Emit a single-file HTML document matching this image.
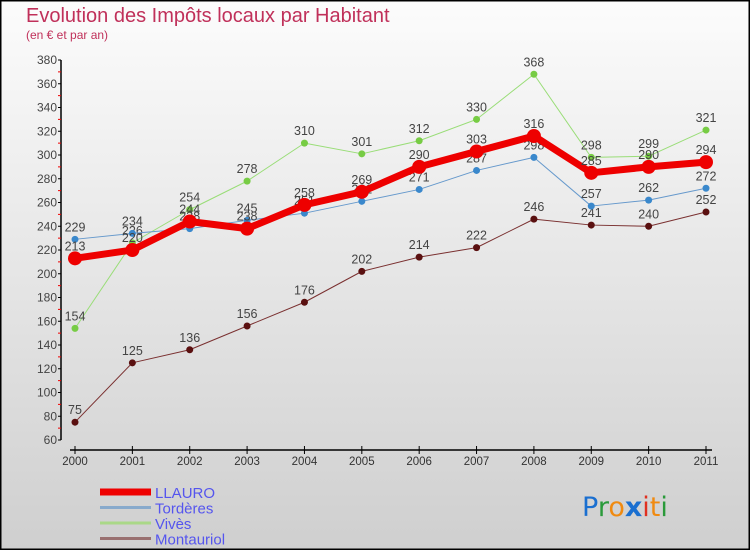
<!DOCTYPE html>
<html><head><meta charset="utf-8"><style>
body{margin:0;}
#wrap{width:750px;height:550px;position:relative;overflow:hidden;}
svg{display:block;font-family:"Liberation Sans",sans-serif;}
</style></head><body>
<div id="wrap">
<svg id="chart" width="750" height="550">
<defs><linearGradient id="bg" x1="0" y1="0" x2="0" y2="1"><stop offset="0" stop-color="#fcfcfc"/><stop offset="1" stop-color="#cfcfcf"/></linearGradient></defs>
<rect x="0.5" y="0.5" width="749" height="549" fill="url(#bg)" stroke="#000" stroke-width="2"/>
<text x="26" y="22" font-size="20" fill="#c0305a">Evolution des Impôts locaux par Habitant</text>
<text x="26" y="39" font-size="12" fill="#c0305a">(en € et par an)</text>
<g id="axes"></g><g id="series"></g><g id="legend"></g>
<text x="582" y="516" font-size="27" font-family="'DejaVu Sans',sans-serif"><tspan fill="#1a6fd0">P</tspan><tspan fill="#2a9a3a">r</tspan><tspan fill="#f08a10">o</tspan><tspan fill="#1a6fd0" font-weight="bold">x</tspan><tspan fill="#e03020">i</tspan><tspan fill="#f08a10">t</tspan><tspan fill="#2a9a3a">i</tspan></text>
</svg></div>
<script>
const years=[2000,2001,2002,2003,2004,2005,2006,2007,2008,2009,2010,2011];
const llauro=[213,220,244,238,258,269,290,303,316,285,290,294];
const torderes=[229,234,238,245,251,261,271,287,298,257,262,272];
const vives=[154,226,254,278,310,301,312,330,368,298,299,321];
const montauriol=[75,125,136,156,176,202,214,222,246,241,240,252];
const yTicks=[60,80,100,120,140,160,180,200,220,240,260,280,300,320,340,360,380];
const NS="http://www.w3.org/2000/svg";
const xS=i=>75+i*(706-75)/11;
const yS=v=>440-(v-60)*(380/320);
function mk(tag,attrs,parent){const e=document.createElementNS(NS,tag);for(const k in attrs)e.setAttribute(k,attrs[k]);parent.appendChild(e);return e;}
const axes=document.getElementById('axes');
const ya=mk('line',{x1:61,x2:61,y1:yS(380),y2:yS(60),stroke:'#000','stroke-width':1.5},axes);


yTicks.forEach((t,i)=>{
 mk('line',{x1:58,x2:61,y1:yS(t),y2:yS(t),stroke:'#000'},axes);
 if(i<yTicks.length-1)mk('line',{x1:58,x2:61,y1:yS(t+10),y2:yS(t+10),stroke:'#e00'},axes);
 const tx=mk('text',{x:57,y:yS(t)+4,'text-anchor':'end','font-size':12,fill:'#444'},axes);tx.textContent=t;
 
 
});
const xa=mk('line',{x1:70,x2:712,y1:450,y2:450,stroke:'#000','stroke-width':1.5},axes);


years.forEach((y,i)=>{
 mk('line',{x1:xS(i),x2:xS(i),y1:446,y2:454,stroke:'#000'},axes);
 const tx=mk('text',{x:xS(i),y:465,'text-anchor':'middle','font-size':11.5,fill:'#333'},axes);tx.textContent=y;
 
 
});
const seriesG=document.getElementById('series');
const defs=[
 {name:'montauriol',data:montauriol,color:'#7a3030',w:1,r:3.5,fill:'#5a1010'},
 {name:'vives',data:vives,color:'#99dd77',w:1,r:3.5,fill:'#77cc44'},
 {name:'torderes',data:torderes,color:'#6699cc',w:1,r:3.5,fill:'#3a88cc'},
 {name:'llauro',data:llauro,color:'#ee0000',w:7,r:7,fill:'#ee0000'}];
defs.forEach(s=>{
 const g=mk('g',{},seriesG);
 
 
 const p=mk('polyline',{points:s.data.map((v,i)=>xS(i)+','+yS(v)).join(' '),fill:'none',stroke:s.color,'stroke-width':s.w,'stroke-linejoin':'round'},g);
 
 
 s.data.forEach((v,i)=>{
  const c=mk('circle',{cx:xS(i),cy:yS(v),r:s.r,fill:s.fill},g);
  
  
  const t=mk('text',{x:xS(i),y:yS(v)-8,'text-anchor':'middle','font-size':12.5,fill:'#444'},g);t.textContent=v;
  
  
 });
});
const lg=document.getElementById('legend');
const legendItems=[['LLAURO','#ee0000',7],['Tordères','#88aacc',3],['Vivès','#aad888',3],['Montauriol','#997070',3]];
legendItems.forEach((it,i)=>{
 const y=492+i*15.5;
 const l=mk('line',{x1:100,x2:151,y1:y,y2:y,stroke:it[1],'stroke-width':it[2]},lg);
 
 
 const t=mk('text',{x:155,y:y+6,'font-size':15,fill:'#5555ee'},lg);t.textContent=it[0];
 
 
});
</script>
</body></html>
